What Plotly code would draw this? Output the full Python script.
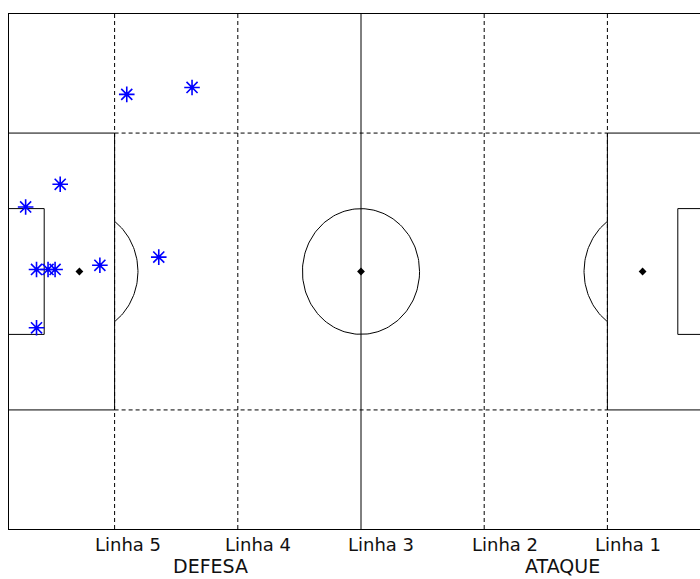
import numpy as np
import plotly.graph_objects as go

# Pitch dimensions (metres)
PITCH_LEN = 110.0
PITCH_WID = 75.0
BOX_DEPTH = 16.5
BOX_WIDTH = 40.32
GA_DEPTH = 5.5
GA_WIDTH = 18.32
SPOT_DIST = 11.0
CIRCLE_R = 9.15

# Zone lines and their labels
zone_x = [16.5, 35.75, 55.0, 74.25, 93.5]
zone_labels = ["Linha 5", "Linha 4", "Linha 3", "Linha 2", "Linha 1"]

# Sector labels under the axis
sector_x = [27.5, 82.5]
sector_labels = ["DEFESA", "ATAQUE"]

# Recorded player positions
player_x = [18.4, 28.6, 8.0, 2.6, 4.3, 6.1, 7.2, 14.2, 4.3, 23.4]
player_y = [63.3, 64.3, 50.2, 46.9, 37.8, 37.8, 37.8, 38.4, 29.3, 39.6]

cy = PITCH_WID / 2
LINE = dict(color="black", width=1)
DASH = dict(color="black", width=1, dash="4px,3px")
FONT = dict(size=18, color="#111111", family="DejaVu Sans, Arial")
FONT_SECTOR = dict(size=19, color="#111111", family="DejaVu Sans, Arial")

fig = go.Figure()


def add_line(xs, ys, line=LINE):
    fig.add_trace(go.Scatter(x=xs, y=ys, mode="lines", line=line,
                             hoverinfo="skip", showlegend=False))


# dashed zone lines (full height), except the halfway line which is solid
for zx in zone_x:
    if zx == PITCH_LEN / 2:
        add_line([zx, zx], [0, PITCH_WID])
    else:
        add_line([zx, zx], [0, PITCH_WID], DASH)

# dashed horizontal lines extending the penalty boxes
by0, by1 = cy - BOX_WIDTH / 2, cy + BOX_WIDTH / 2
for by in (by0, by1):
    add_line([BOX_DEPTH, PITCH_LEN - BOX_DEPTH], [by, by], DASH)

# penalty boxes
add_line([0, BOX_DEPTH, BOX_DEPTH, 0], [by0, by0, by1, by1])
add_line([PITCH_LEN, PITCH_LEN - BOX_DEPTH, PITCH_LEN - BOX_DEPTH, PITCH_LEN],
         [by0, by0, by1, by1])

# goal areas
gy0, gy1 = cy - GA_WIDTH / 2, cy + GA_WIDTH / 2
add_line([0, GA_DEPTH, GA_DEPTH, 0], [gy0, gy0, gy1, gy1])
add_line([PITCH_LEN, PITCH_LEN - GA_DEPTH, PITCH_LEN - GA_DEPTH, PITCH_LEN],
         [gy0, gy0, gy1, gy1])

# centre circle
t = np.linspace(0, 2 * np.pi, 181)
add_line(PITCH_LEN / 2 + CIRCLE_R * np.cos(t), cy + CIRCLE_R * np.sin(t))

# penalty arcs (part outside the box)
a = np.arccos((BOX_DEPTH - SPOT_DIST) / CIRCLE_R)
ta = np.linspace(-a, a, 60)
add_line(SPOT_DIST + CIRCLE_R * np.cos(ta), cy + CIRCLE_R * np.sin(ta))
add_line(PITCH_LEN - SPOT_DIST - CIRCLE_R * np.cos(ta), cy + CIRCLE_R * np.sin(ta))

# spots
fig.add_trace(go.Scatter(
    x=[SPOT_DIST, PITCH_LEN / 2, PITCH_LEN - SPOT_DIST], y=[cy, cy, cy],
    mode="markers", marker=dict(symbol="diamond", size=6, color="black"),
    hoverinfo="skip", showlegend=False))

# players: asterisk with a small solid core
fig.add_trace(go.Scatter(
    x=player_x, y=player_y, mode="markers",
    marker=dict(symbol="asterisk-open", size=13, color="#0000ff",
                line=dict(color="#0000ff", width=1.6)),
    showlegend=False))
fig.add_trace(go.Scatter(
    x=player_x, y=player_y, mode="markers",
    marker=dict(symbol="circle", size=4, color="#0000ff"),
    hoverinfo="skip", showlegend=False))

# label offsets to the right of each line (px)
label_shift = [13, 20, 20, 21, 21]
annotations = []
for zx, lab, sh in zip(zone_x, zone_labels, label_shift):
    annotations.append(dict(x=zx, y=0, xref="x", yref="paper", text=lab,
                            showarrow=False, xanchor="center", yanchor="top",
                            xshift=sh, yshift=-3, font=FONT))
for sx, lab in zip(sector_x, sector_labels):
    annotations.append(dict(x=sx, y=0, xref="x", yref="paper", text=lab,
                            showarrow=False, xanchor="center", yanchor="top",
                            xshift=25, yshift=-25, borderpad=0,
                            font=FONT_SECTOR))

fig.update_layout(
    width=700, height=579,
    margin=dict(l=9, r=0, t=14, b=50),
    paper_bgcolor="white", plot_bgcolor="white",
    showlegend=False,
    annotations=annotations,
    xaxis=dict(range=[0, PITCH_LEN * 691 / 704], showgrid=False, zeroline=False,
               showticklabels=False, ticks="", showline=True, mirror=True,
               linecolor="black", linewidth=1),
    yaxis=dict(range=[0, PITCH_WID], showgrid=False, zeroline=False,
               showticklabels=False, ticks="", showline=True, mirror=False,
               linecolor="black", linewidth=1),
)

fig.write_html("out.html")
